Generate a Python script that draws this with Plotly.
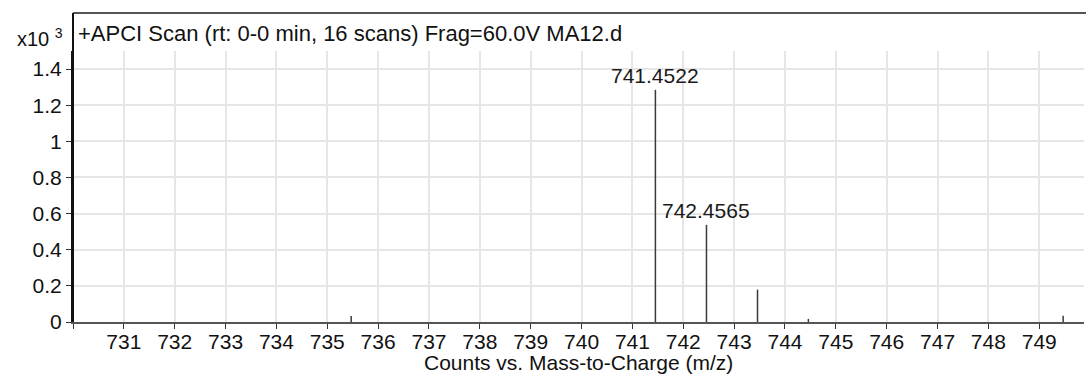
import plotly.graph_objects as go

# Data (m/z, counts in x10^3)
mz = [735.47, 741.4522, 742.4565, 743.46, 744.46, 749.47]
counts = [0.033, 1.285, 0.538, 0.179, 0.017, 0.035]
labeled_mz = [741.4522, 742.4565]
labeled_counts = [1.285, 0.538]
labeled_text = ["741.4522", "742.4565"]

x_ticks = list(range(730, 750))
x_tick_text = [""] + [str(v) for v in range(731, 750)]
y_ticks = [0, 0.2, 0.4, 0.6, 0.8, 1, 1.2, 1.4]
y_tick_text = ["0", "0.2", "0.4", "0.6", "0.8", "1", "1.2", "1.4"]

title_text = "+APCI Scan (rt: 0-0 min, 16 scans) Frag=60.0V MA12.d"
x_title = "Counts vs. Mass-to-Charge (m/z)"

FONT = "Liberation Sans, Arial, sans-serif"

sx, sy = [], []
for m, c in zip(mz, counts):
    sx += [m, m, None]
    sy += [0, c, None]

fig = go.Figure()
fig.add_trace(go.Scatter(x=sx, y=sy, mode="lines",
                         line=dict(color="#3a3a3a", width=1.5),
                         hoverinfo="skip", showlegend=False))

for m, c, t in zip(labeled_mz, labeled_counts, labeled_text):
    fig.add_annotation(x=m, y=c, text=t, showarrow=False, xref="x", yref="y",
                       xanchor="center", yanchor="bottom", yshift=1,
                       font=dict(family=FONT, size=21, color="#1a1a1a"))

H_PLOT = 271.0
fig.add_annotation(x=0, y=(322 - 33) / H_PLOT, xref="paper", yref="paper",
                   text=title_text, showarrow=False, xanchor="left", yanchor="middle",
                   xshift=3, font=dict(family=FONT, size=22, color="#111"))
fig.add_annotation(x=0, y=(322 - 37) / H_PLOT, xref="paper", yref="paper",
                   text="x10 <sup>3</sup>", showarrow=False, xanchor="right", yanchor="middle",
                   xshift=-8, font=dict(family=FONT, size=20, color="#111"))
fig.add_annotation(x=0.5, y=(322 - 362) / H_PLOT, xref="paper", yref="paper",
                   text=x_title, showarrow=False, xanchor="center", yanchor="middle",
                   font=dict(family=FONT, size=21, color="#111"))

top_y = (322 - 13) / H_PLOT
fig.add_shape(type="line", xref="paper", yref="paper", x0=0, x1=1.01, y0=top_y, y1=top_y,
              line=dict(color="#555", width=2))
fig.add_shape(type="line", xref="paper", yref="paper", x0=0, x1=0, y0=0, y1=top_y,
              line=dict(color="#111", width=2))

fig.update_layout(
    width=1086, height=374,
    margin=dict(l=73, r=2, t=51, b=52),
    paper_bgcolor="white", plot_bgcolor="white",
    font=dict(family=FONT, size=20, color="#111"),
    xaxis=dict(range=[730, 749.88], tickmode="array", tickvals=x_ticks, ticktext=x_tick_text,
               ticks="outside", ticklen=5, tickwidth=1, tickcolor="#333",
               ticklabelstandoff=-5,
               showgrid=True, gridcolor="#e6e6e6", gridwidth=1.5,
               showline=True, linecolor="#555", linewidth=2, zeroline=False,
               tickfont=dict(family=FONT, size=21, color="#111")),
    yaxis=dict(range=[0, 1.5], tickmode="array", tickvals=y_ticks, ticktext=y_tick_text,
               ticks="outside", ticklen=5, tickwidth=1, tickcolor="#333",
               showgrid=True, gridcolor="#e6e6e6", gridwidth=1.5,
               showline=True, linecolor="#111", linewidth=2, zeroline=False,
               tickfont=dict(family=FONT, size=21, color="#111")),
)

fig.write_html("out.html")
